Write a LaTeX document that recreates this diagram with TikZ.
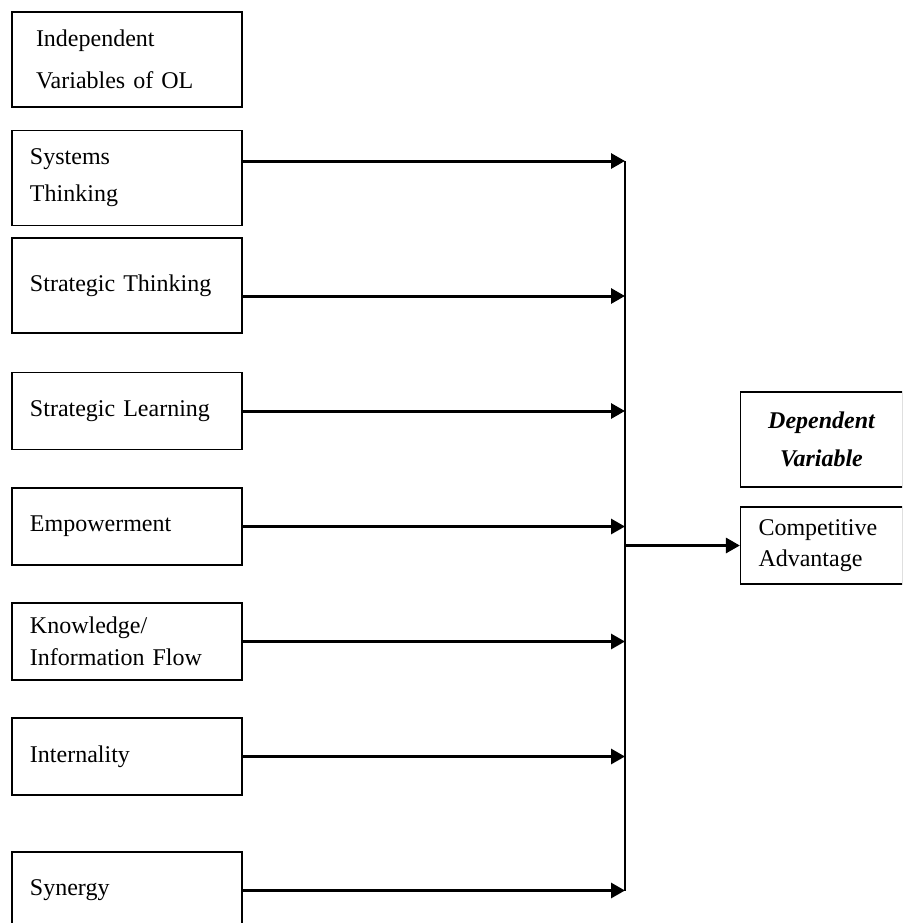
\documentclass[tikz,border=0pt]{standalone}
\usepackage{fontspec}
\setmainfont{Liberation Serif}
\usetikzlibrary{arrows.meta}

\begin{document}
\begin{tikzpicture}[x=0.5pt, y=-0.5pt,
    varbox/.style={draw, line width=0.6pt, text width=97pt, inner xsep=9pt, inner ysep=0pt, align=left, font=\fontsize{12pt}{18.5pt}\selectfont},
    tallbox/.style={varbox, minimum height=47.5pt},
    shortbox/.style={varbox, minimum height=38.5pt},
    flowarrow/.style={line width=1.5pt, -{Triangle[length=7pt, width=7.5pt]}}]
    \path[use as bounding box, clip] (0,0) rectangle (902,923);

    % Draw the boxes of the independent variables
    \node[tallbox, font=\fontsize{12pt}{21pt}\selectfont] (indep) at (127,59.5) {\hspace*{3pt}Independent\\\hspace*{3pt}Variables of OL};
    \node[tallbox] (systems) at (127,178) {Systems\\Thinking};
    \node[tallbox] (stratthink) at (127,285.5) {Strategic Thinking};
    \node[shortbox] (stratlearn) at (127,411) {Strategic Learning};
    \node[shortbox] (empower) at (127,526.5) {Empowerment};
    \node[shortbox, font=\fontsize{12pt}{16pt}\selectfont] (knowledge) at (127,641.5) {Knowledge/\\Information Flow};
    \node[shortbox] (internal) at (127,756.5) {Internality};
    \node[shortbox] (synergy) at (127,890.5) {Synergy};

    % Draw the boxes of the dependent variable
    \node[draw, line width=0.6pt, minimum width=81pt, minimum height=47.5pt, align=center, font=\fontsize{12pt}{19pt}\selectfont\bfseries\itshape] (dep) at (821.5,439.5) {Dependent\\Variable};
    \node[shortbox, text width=63pt, font=\fontsize{12pt}{15.5pt}\selectfont] (comp) at (821.5,545.5) {Competitive\\Advantage};

    % Points where the arrows meet the vertical line
    \coordinate (b1) at (625,161);
    \coordinate (b2) at (625,296);
    \coordinate (bout) at (625,545.5);
    \coordinate (b7) at (625,890.5);

    % Draw the vertical line collecting all arrows
    \draw[line width=0.6pt] (b1) -- (b7);

    % Draw the arrows from each variable
    \draw[flowarrow] (systems.east |- b1) -- (b1);
    \draw[flowarrow] (stratthink.east |- b2) -- (b2);
    \draw[flowarrow] (stratlearn.east) -- (stratlearn.east -| b1);
    \draw[flowarrow] (empower.east) -- (empower.east -| b1);
    \draw[flowarrow] (knowledge.east) -- (knowledge.east -| b1);
    \draw[flowarrow] (internal.east) -- (internal.east -| b1);
    \draw[flowarrow] (synergy.east) -- (b7);

    % Draw the arrow to competitive advantage
    \draw[flowarrow] (bout) -- (comp.west);

\end{tikzpicture}
\end{document}
